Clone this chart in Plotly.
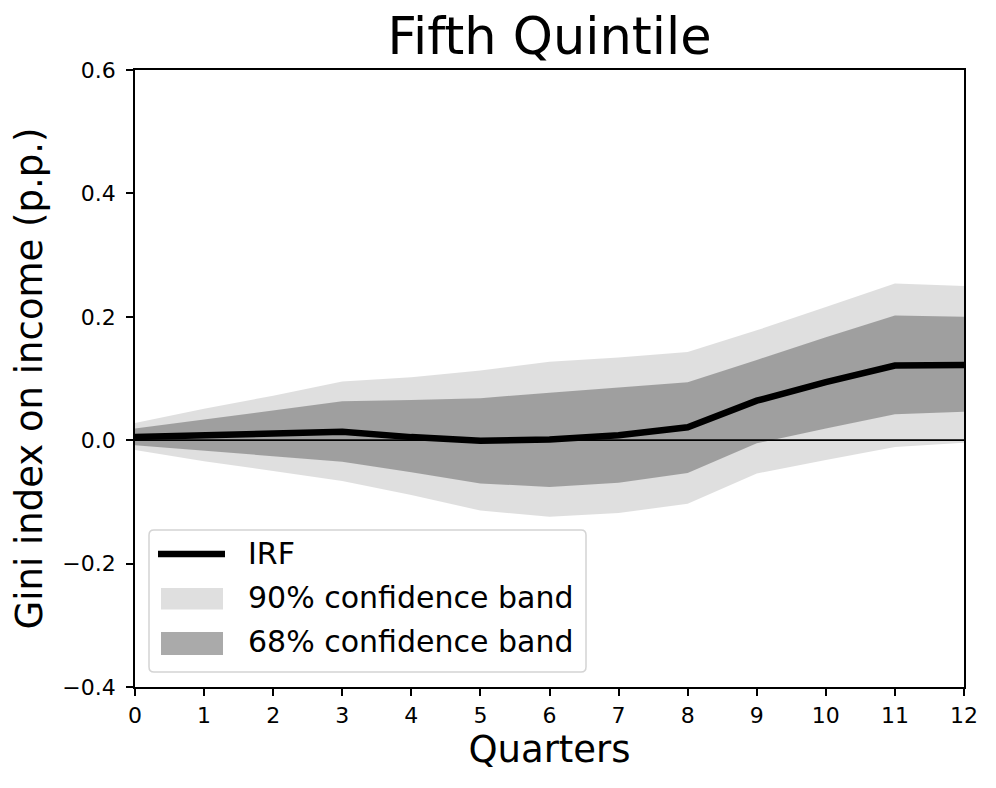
import plotly.graph_objects as go

quarters = list(range(13))
irf = [0.005, 0.007, 0.010, 0.0135, 0.005, -0.001, 0.001, 0.008, 0.021, 0.064, 0.094, 0.121, 0.122]
upper68 = [0.019, 0.034, 0.048, 0.063, 0.065, 0.068, 0.077, 0.085, 0.094, 0.130, 0.167, 0.202, 0.200]
lower68 = [-0.008, -0.017, -0.026, -0.035, -0.052, -0.070, -0.076, -0.069, -0.053, -0.005, 0.019, 0.042, 0.046]
upper90 = [0.028, 0.051, 0.072, 0.095, 0.102, 0.113, 0.127, 0.134, 0.143, 0.178, 0.216, 0.254, 0.250]
lower90 = [-0.016, -0.034, -0.050, -0.066, -0.089, -0.114, -0.124, -0.118, -0.103, -0.054, -0.032, -0.011, -0.004]

y_ticks = [-0.4, -0.2, 0.0, 0.2, 0.4, 0.6]
y_ticktext = ["\u22120.4", "\u22120.2", "0.0", "0.2", "0.4", "0.6"]
legend_labels = ["IRF", "90% confidence band", "68% confidence band"]

FONT = "DejaVu Sans"
c90 = "rgba(128,128,128,0.25)"
c68 = "rgba(128,128,128,0.667)"

fig = go.Figure()
fig.add_trace(go.Scatter(x=quarters, y=lower90, mode="lines", line=dict(width=0, color=c90),
                         showlegend=False, hoverinfo="skip"))
fig.add_trace(go.Scatter(x=quarters, y=upper90, mode="lines", line=dict(width=0, color=c90),
                         fill="tonexty", fillcolor=c90, name=legend_labels[1], showlegend=False))
fig.add_trace(go.Scatter(x=quarters, y=lower68, mode="lines", line=dict(width=0, color=c68),
                         showlegend=False, hoverinfo="skip"))
fig.add_trace(go.Scatter(x=quarters, y=upper68, mode="lines", line=dict(width=0, color=c68),
                         fill="tonexty", fillcolor=c68, name=legend_labels[2], showlegend=False))
fig.add_trace(go.Scatter(x=[quarters[0], quarters[-1]], y=[0, 0], mode="lines",
                         line=dict(width=1.8, color="black"), showlegend=False, hoverinfo="skip"))
fig.add_trace(go.Scatter(x=quarters, y=irf, mode="lines", line=dict(width=6.5, color="black"),
                         name=legend_labels[0], showlegend=False))

# ---- hand-built legend (paper coordinates) ----
# figure is drawn 8px in from the page edge; plot area in page px: x 135..964, y 70..687
PX0, PX1, PY0, PY1 = 135, 964, 70, 687
def px(xp):
    return (xp - PX0) / (PX1 - PX0)
def py(yp):
    return (PY1 - yp) / (PY1 - PY0)

bx0, bx1, by0, by1 = px(149), px(586), py(672), py(530)
rx, ry = 5 / (PX1 - PX0), 5 / (PY1 - PY0)
path = (f"M{bx0+rx},{by0} L{bx1-rx},{by0} Q{bx1},{by0} {bx1},{by0+ry} "
        f"L{bx1},{by1-ry} Q{bx1},{by1} {bx1-rx},{by1} L{bx0+rx},{by1} "
        f"Q{bx0},{by1} {bx0},{by1-ry} L{bx0},{by0+ry} Q{bx0},{by0} {bx0+rx},{by0} Z")
shapes = [
    dict(type="path", xref="paper", yref="paper", path=path,
         fillcolor="rgba(255,255,255,0.8)", line=dict(color="#d4d4d4", width=1.5), layer="above"),
    dict(type="line", xref="paper", yref="paper", x0=px(158), x1=px(225), y0=py(554), y1=py(554),
         line=dict(color="black", width=6.5), layer="above"),
    dict(type="rect", xref="paper", yref="paper", x0=px(161), x1=px(223), y0=py(609.5), y1=py(588),
         fillcolor=c90, line=dict(width=0), layer="above"),
    dict(type="rect", xref="paper", yref="paper", x0=px(161), x1=px(223), y0=py(655), y1=py(632),
         fillcolor=c68, line=dict(width=0), layer="above"),
]
annotations = [
    dict(text=lab, xref="paper", yref="paper", x=px(246), y=py(yc), xanchor="left", yanchor="middle",
         showarrow=False, font=dict(family=FONT, size=30, color="black"))
    for lab, yc in zip(legend_labels, [553, 597, 641])
]

axis_common = dict(
    showline=True, linecolor="black", linewidth=1.8, mirror=True,
    ticks="outside", ticklen=7, tickwidth=1.5, tickcolor="black",
    showgrid=False, zeroline=False,
    tickfont=dict(family=FONT, size=22, color="black"),
)

W, H = 988, 780
fig.update_layout(
    width=W, height=H,
    margin=dict(l=PX0 - 8, r=996 - PX1 - 0, t=PY0 - 8, b=788 - PY1),
    paper_bgcolor="white", plot_bgcolor="white",
    font=dict(family=FONT, color="black"),
    title=dict(text="Fifth Quintile", x=((PX0 + PX1) / 2 - 8) / W, xanchor="center",
               yref="container", y=1 - 28 / H, yanchor="middle",
               font=dict(family=FONT, size=51, color="black")),
    xaxis=dict(range=[0, 12], tickmode="array", tickvals=quarters, ticklabelstandoff=1,
               title=dict(text="Quarters", font=dict(family=FONT, size=37, color="black"), standoff=6),
               **axis_common),
    yaxis=dict(range=[-0.4, 0.6], tickmode="array", tickvals=y_ticks, ticktext=y_ticktext,
               ticklabelstandoff=6,
               title=dict(text="Gini index on income (p.p.)", font=dict(family=FONT, size=37, color="black"),
                          standoff=10),
               **axis_common),
    shapes=shapes,
    annotations=annotations,
    showlegend=False,
)

fig.write_html("out.html")
